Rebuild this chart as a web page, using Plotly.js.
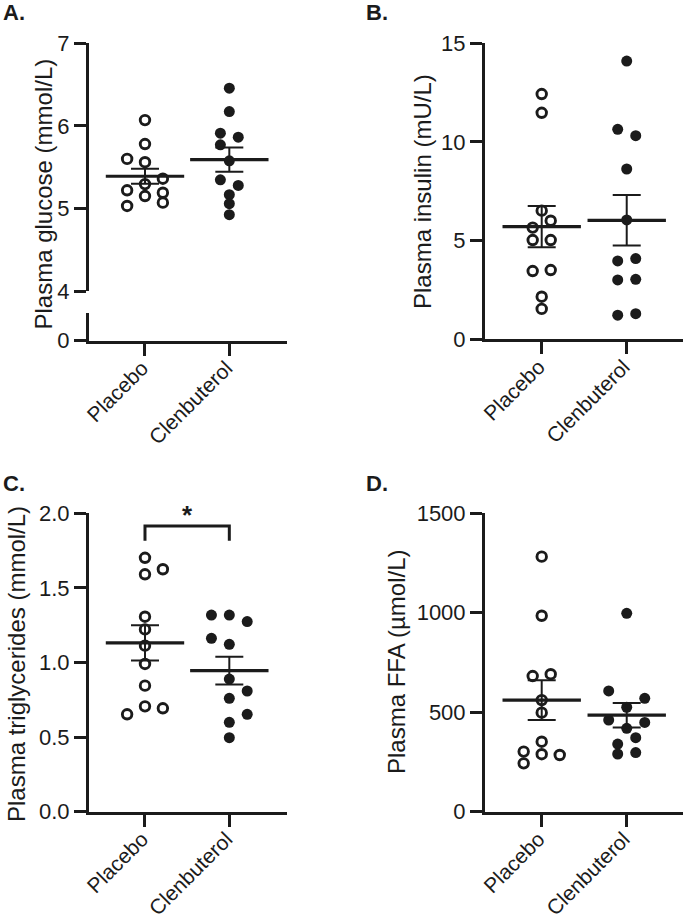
<!DOCTYPE html>
<html>
<head>
<meta charset="utf-8">
<script src="https://cdn.plot.ly/plotly-3.0.1.min.js"></script>
<style>
  html, body { margin: 0; padding: 0; background: #fff; }
  #chart { width: 685px; height: 923px; }
</style>
</head>
<body>
<div id="chart"></div>
<script>
// ---- Data ----
const categories = ["Placebo", "Clenbuterol"];

// A. Plasma glucose (mmol/L)
const glucosePlacebo     = [6.07, 5.78, 5.60, 5.56, 5.36, 5.295, 5.22, 5.19, 5.15, 5.07, 5.03];
const glucosePlaceboJit  = [0, 0, -2, 0, 2, 0, -2, 2, 0, 2, -2];
const glucoseClen        = [6.456, 6.173, 5.912, 5.863, 5.770, 5.577, 5.347, 5.278, 5.166, 5.057, 4.924];
const glucoseClenJit     = [0, 0, -1, 1, -1, 0, -1, 1, 0, 0, 0];
const glucoseMean        = [5.39, 5.59];
const glucoseSem         = [0.092, 0.147];

// B. Plasma insulin (mU/L)
const insulinPlacebo     = [12.43, 11.48, 6.52, 6.01, 5.66, 5.03, 5.03, 3.46, 3.51, 2.16, 1.54];
const insulinPlaceboJit  = [0, 0, 0, 1, -1, -1, 1, -1, 1, 0, 0];
const insulinClen        = [14.10, 10.64, 10.32, 8.63, 6.05, 3.97, 4.09, 3.01, 3.04, 1.22, 1.30];
const insulinClenJit     = [0, -1, 1, 0, 0, -1, 1, -1, 1, -1, 1];
const insulinMean        = [5.71, 6.03];
const insulinSem         = [1.05, 1.28];

// C. Plasma triglycerides (mmol/L)
const tgPlacebo          = [1.702, 1.591, 1.625, 1.307, 1.222, 1.113, 0.990, 0.845, 0.706, 0.693, 0.653];
const tgPlaceboJit       = [0, 0, 2, 0, 0, 0, 0, 0, 0, 2, -2];
const tgClen             = [1.318, 1.318, 1.274, 1.162, 1.122, 0.889, 0.809, 0.760, 0.653, 0.599, 0.496];
const tgClenJit          = [-2, 0, 2, -2, 0, 0, 2, 0, 2, 0, 0];
const tgMean             = [1.131, 0.946];
const tgSem              = [0.118, 0.093];

// D. Plasma FFA (µmol/L)
const ffaPlacebo         = [1282, 985, 682, 691, 561, 498, 352, 302, 289, 285, 243];
const ffaPlaceboJit      = [0, 0, -1, 1, 0, 0, 0, -2, 0, 2, -2];
const ffaClen            = [997, 607, 570, 525, 461, 449, 419, 372, 340, 290, 297];
const ffaClenJit         = [0, -2, 2, 0, -2, 2, 0, 1, -1, -1, 1];
const ffaMean            = [561, 485];
const ffaSem             = [100, 62];

const yTitles = ["Plasma glucose (mmol/L)", "Plasma insulin (mU/L)",
                 "Plasma triglycerides (mmol/L)", "Plasma FFA (µmol/L)"];
const panelLetters = ["A.", "B.", "C.", "D."];

// ---- Styling ----
const INK = "#1b1b1b";
const FONT = "Liberation Sans, Arial, sans-serif";
const JIT_STEP = 0.106;   // horizontal scatter step (category units)
const W = 685, H = 923;

function pts(vals, jit, catIndex, open, xa, ya) {
  return {
    type: "scatter", mode: "markers", xaxis: xa, yaxis: ya,
    x: vals.map((v, i) => catIndex + jit[i] * JIT_STEP),
    y: vals,
    cliponaxis: false, hoverinfo: "skip",
    marker: open
      ? { symbol: "circle", size: 9.5, color: "#ffffff", line: { color: INK, width: 2.9 } }
      : { symbol: "circle", size: 11, color: INK, line: { width: 0 } }
  };
}
function meanTrace(means, sems, xa, ya) {
  return {
    type: "scatter", mode: "markers", xaxis: xa, yaxis: ya,
    x: [0, 1], y: means, cliponaxis: false, hoverinfo: "skip",
    marker: { symbol: "line-ew", size: 56, color: INK, line: { color: INK, width: 3.2 } },
    error_y: { type: "data", array: sems, visible: true, color: INK, thickness: 2, width: 14 }
  };
}

const traces = [
  pts(glucosePlacebo, glucosePlaceboJit, 0, true, "x", "y"),
  pts(glucoseClen, glucoseClenJit, 1, false, "x", "y"),
  meanTrace(glucoseMean, glucoseSem, "x", "y"),
  // empty trace so the lower (broken) segment of panel A's y-axis is drawn
  { type: "scatter", mode: "markers", xaxis: "x", yaxis: "y2", x: [null], y: [null], hoverinfo: "skip" },
  pts(insulinPlacebo, insulinPlaceboJit, 0, true, "x2", "y3"),
  pts(insulinClen, insulinClenJit, 1, false, "x2", "y3"),
  meanTrace(insulinMean, insulinSem, "x2", "y3"),
  pts(tgPlacebo, tgPlaceboJit, 0, true, "x3", "y4"),
  pts(tgClen, tgClenJit, 1, false, "x3", "y4"),
  meanTrace(tgMean, tgSem, "x3", "y4"),
  pts(ffaPlacebo, ffaPlaceboJit, 0, true, "x4", "y5"),
  pts(ffaClen, ffaClenJit, 1, false, "x4", "y5"),
  meanTrace(ffaMean, ffaSem, "x4", "y5")
];

// pixel helpers
const px = v => v / W;
const py = v => 1 - v / H;

const axisBase = {
  showline: true, linecolor: INK, linewidth: 3,
  ticks: "outside", ticklen: 12, tickwidth: 3, tickcolor: INK,
  showgrid: false, zeroline: false, fixedrange: true,
  tickfont: { family: FONT, size: 22, color: INK }
};
function xAxis(domain, range, anchor) {
  return Object.assign({}, axisBase, {
    domain: domain, range: range, anchor: anchor,
    tickmode: "array", tickvals: [0, 1], ticktext: categories,
    tickangle: -45, ticklabelstandoff: -8, ticklabelshift: -3,
    tickfont: { family: FONT, size: 21, color: INK }
  });
}
function yAxis(domain, range, anchor, tickvals, fmt) {
  return Object.assign({}, axisBase, {
    domain: domain, range: range, anchor: anchor,
    tickmode: "array", tickvals: tickvals, tickformat: fmt || ""
  });
}

const leftX  = [px(89), px(287)];
const rightX = [px(485), px(683)];

const letterFont = { family: FONT, size: 22, color: INK };
const titleFont = { family: FONT, size: 24, color: INK };

const layout = {
  width: W, height: H,
  margin: { l: 0, r: 0, t: 0, b: 0, pad: 0 },
  paper_bgcolor: "#ffffff", plot_bgcolor: "rgba(0,0,0,0)",
  showlegend: false,
  font: { family: FONT, color: INK },
  xaxis:  xAxis(leftX,  [-0.664, 1.684], "y2"),
  xaxis2: xAxis(rightX, [-0.667, 1.662], "y3"),
  xaxis3: xAxis(leftX,  [-0.664, 1.684], "y4"),
  xaxis4: xAxis(rightX, [-0.667, 1.662], "y5"),
  yaxis:  yAxis([py(291), py(43.3)], [4, 7], "x", [4, 5, 6, 7]),
  yaxis2: yAxis([py(340.7), py(313)], [0, 1], "x", [0]),
  yaxis3: yAxis([py(339.3), py(43.3)], [0, 15], "x2", [0, 5, 10, 15]),
  yaxis4: yAxis([py(811.7), py(513.3)], [0, 2], "x3", [0, 0.5, 1, 1.5, 2], ".1f"),
  yaxis5: yAxis([py(811.7), py(513.3)], [0, 1500], "x4", [0, 500, 1000, 1500]),
  shapes: [
    { type: "path", xref: "x3", yref: "y4",
      path: "M 0 1.816 L 0 1.915 L 1 1.915 L 1 1.816",
      line: { color: INK, width: 3 } }
  ],
  annotations: [
    // panel letters
    { text: "<b>" + panelLetters[0] + "</b>", xref: "paper", yref: "paper", x: px(1), y: py(13), xanchor: "left", yanchor: "middle", showarrow: false, font: letterFont },
    { text: "<b>" + panelLetters[1] + "</b>", xref: "paper", yref: "paper", x: px(364), y: py(13), xanchor: "left", yanchor: "middle", showarrow: false, font: letterFont },
    { text: "<b>" + panelLetters[2] + "</b>", xref: "paper", yref: "paper", x: px(1), y: py(483), xanchor: "left", yanchor: "middle", showarrow: false, font: letterFont },
    { text: "<b>" + panelLetters[3] + "</b>", xref: "paper", yref: "paper", x: px(364), y: py(483), xanchor: "left", yanchor: "middle", showarrow: false, font: letterFont },
    // y-axis titles
    { text: yTitles[0], xref: "paper", yref: "paper", x: px(42.5), y: py(194), textangle: -90, xanchor: "center", yanchor: "middle", showarrow: false, font: titleFont },
    { text: yTitles[1], xref: "paper", yref: "paper", x: px(422), y: py(192), textangle: -90, xanchor: "center", yanchor: "middle", showarrow: false, font: titleFont },
    { text: yTitles[2], xref: "paper", yref: "paper", x: px(16), y: py(664), textangle: -90, xanchor: "center", yanchor: "middle", showarrow: false, font: titleFont },
    { text: yTitles[3], xref: "paper", yref: "paper", x: px(396), y: py(662), textangle: -90, xanchor: "center", yanchor: "middle", showarrow: false, font: titleFont },
    // significance star
    { text: "<b>*</b>", xref: "x3", yref: "y4", x: 0.5, y: 1.99, xanchor: "center", yanchor: "middle", showarrow: false, font: { family: FONT, size: 26, color: INK } }
  ]
};

Plotly.newPlot("chart", traces, layout, { staticPlot: true, displayModeBar: false });
</script>
</body>
</html>
